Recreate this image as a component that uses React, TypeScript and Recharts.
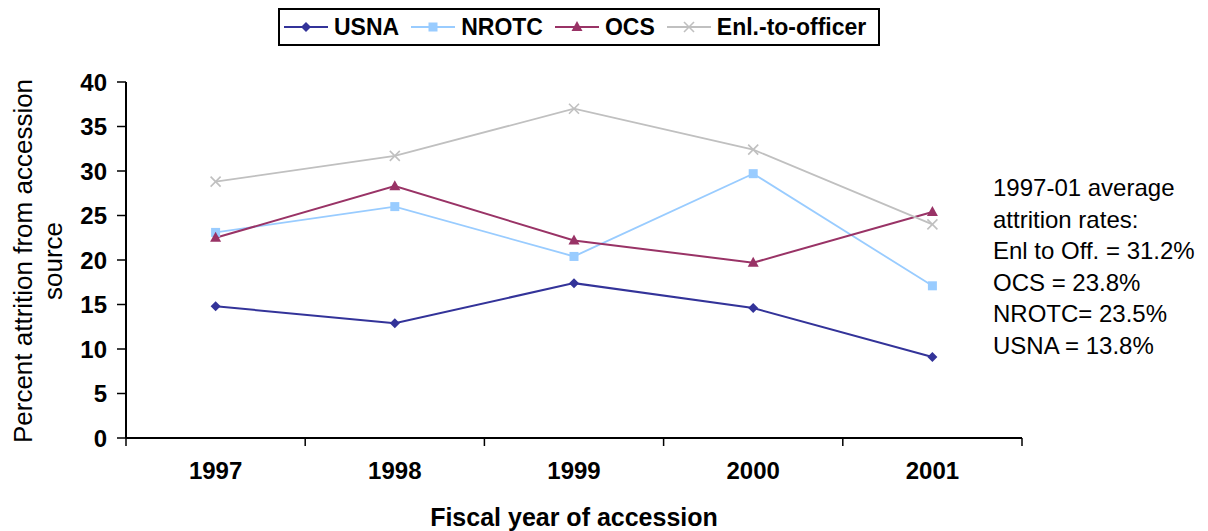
import { LineChart, Line, XAxis, YAxis, Label } from 'recharts';

const years = [1997, 1998, 1999, 2000, 2001];
const usna = [14.8, 12.9, 17.4, 14.6, 9.1];
const nrotc = [23.1, 26.0, 20.4, 29.7, 17.1];
const ocs = [22.5, 28.3, 22.2, 19.7, 25.4];
const enlisted = [28.8, 31.7, 37.0, 32.4, 24.0];
const yTicks = [0, 5, 10, 15, 20, 25, 30, 35, 40];
const notes = [
  '1997-01 average',
  'attrition rates:',
  'Enl to Off. = 31.2%',
  'OCS = 23.8%',
  'NROTC= 23.5%',
  'USNA = 13.8%',
];

const data = years.map((year, i) => ({
  year,
  usna: usna[i],
  nrotc: nrotc[i],
  ocs: ocs[i],
  enlisted: enlisted[i],
}));

// labels on the years, tick marks between them (like Excel)
const xTicks = [...years.flatMap((y) => [y - 0.5, y]), years[years.length - 1] + 0.5];

const FONT = '"Liberation Sans", Arial, sans-serif';

const series = [
  { key: 'usna', name: 'USNA', color: '#333399', width: 2, shape: 'diamond' },
  { key: 'nrotc', name: 'NROTC', color: '#99ccff', width: 1.8, shape: 'square' },
  { key: 'ocs', name: 'OCS', color: '#993366', width: 2, shape: 'triangle' },
  { key: 'enlisted', name: 'Enl.-to-officer', color: '#c0c0c0', width: 1.8, shape: 'cross' },
];

function Marker({ cx, cy, shape, color }: any) {
  if (cx == null || cy == null) return null;
  if (shape === 'diamond')
    return <polygon points={`${cx},${cy - 5} ${cx + 5},${cy} ${cx},${cy + 5} ${cx - 5},${cy}`} fill={color} />;
  if (shape === 'square') return <rect x={cx - 4.5} y={cy - 4.5} width={9} height={9} fill={color} />;
  if (shape === 'triangle')
    return <polygon points={`${cx},${cy - 6} ${cx + 5.5},${cy + 4} ${cx - 5.5},${cy + 4}`} fill={color} />;
  return (
    <g stroke={color} strokeWidth={1.6}>
      <line x1={cx - 5} y1={cy - 5} x2={cx + 5} y2={cy + 5} />
      <line x1={cx - 5} y1={cy + 5} x2={cx + 5} y2={cy - 5} />
    </g>
  );
}

function XTick({ x, y, payload }: any) {
  if (Number.isInteger(payload.value)) {
    return (
      <text x={x} y={y + 32} textAnchor="middle" dominantBaseline="central" fontSize={24} fontWeight="bold" fill="#000" fontFamily={FONT}>
        {payload.value}
      </text>
    );
  }
  return <line x1={x} x2={x} y1={y} y2={y + 8} stroke="#000" strokeWidth={1.5} />;
}

function Legend() {
  return (
    <div
      style={{
        position: 'absolute',
        left: 278,
        top: 8,
        height: 34,
        border: '2px solid #000',
        display: 'flex',
        alignItems: 'center',
        padding: '0 0 0 4px',
        fontFamily: FONT,
        fontWeight: 'bold',
        fontSize: 23,
        background: '#fff',
      }}
    >
      {series.map((s) => (
        <div key={s.key} style={{ display: 'flex', alignItems: 'center', marginRight: 12 }}>
          <svg width={44} height={14} style={{ marginRight: 6 }}>
            <line x1={0} y1={7} x2={44} y2={7} stroke={s.color} strokeWidth={s.width} />
            <Marker cx={22} cy={7} shape={s.shape} color={s.color} />
          </svg>
          <span>{s.name}</span>
        </div>
      ))}
    </div>
  );
}

export default function App() {
  return (
    <div style={{ position: 'absolute', left: 0, top: 0, width: 1208, height: 531, background: '#fff' }}>
      <LineChart width={1208} height={531} data={data} margin={{ top: 82, right: 186, bottom: 0, left: 0 }}>
        <XAxis
          dataKey="year"
          type="number"
          domain={[years[0] - 0.5, years[years.length - 1] + 0.5]}
          ticks={xTicks}
          interval={0}
          tickLine={false}
          tickSize={0}
          tickMargin={0}
          tick={<XTick />}
          height={93}
          axisLine={{ stroke: '#000', strokeWidth: 2 }}
        >
          <Label
            content={() => (
              <text x={574} y={517} textAnchor="middle" dominantBaseline="central" fontSize={25} fontWeight="bold" fill="#000" fontFamily={FONT}>
                Fiscal year of accession
              </text>
            )}
          />
        </XAxis>
        <YAxis
          domain={[0, 40]}
          ticks={yTicks}
          interval={0}
          width={126}
          tickSize={9}
          tickMargin={10}
          tick={{ fontSize: 24, fontWeight: 'bold', fill: '#000', fontFamily: FONT }}
          tickLine={{ stroke: '#000', strokeWidth: 1.5 }}
          axisLine={{ stroke: '#000', strokeWidth: 2 }}
        >
          <Label
            content={() => (
              <g fontSize={26} fill="#000" fontFamily={FONT} textAnchor="middle">
                <text x={23} y={261} dominantBaseline="central" transform="rotate(-90 23 261)">
                  Percent attrition from accession
                </text>
                <text x={53} y={261} dominantBaseline="central" transform="rotate(-90 53 261)">
                  source
                </text>
              </g>
            )}
          />
        </YAxis>
        {series.map((s) => (
          <Line
            key={s.key}
            dataKey={s.key}
            name={s.name}
            stroke={s.color}
            strokeWidth={s.width}
            isAnimationActive={false}
            dot={(p: any) => <Marker key={`${s.key}-${p.index}`} cx={p.cx} cy={p.cy} shape={s.shape} color={s.color} />}
            activeDot={false}
          />
        ))}
      </LineChart>
      <Legend />
      <div
        style={{
          position: 'absolute',
          left: 993,
          top: 172,
          fontFamily: FONT,
          fontSize: 24,
          lineHeight: '31.6px',
          color: '#000',
          whiteSpace: 'nowrap',
        }}
      >
        {notes.map((n) => (
          <div key={n}>{n}</div>
        ))}
      </div>
    </div>
  );
}
